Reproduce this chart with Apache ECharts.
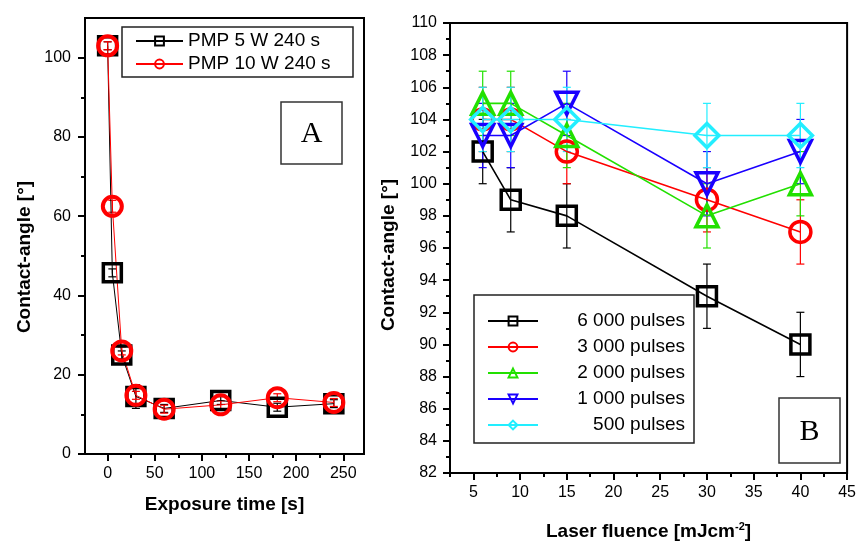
<!DOCTYPE html>
<html><head><meta charset="utf-8">
<script src="https://cdn.jsdelivr.net/npm/echarts@6/dist/echarts.min.js"></script>
<style>html,body{margin:0;padding:0;background:#fff}#c{width:859px;height:546px}</style>
</head><body><div id="c"></div>
<script>
// ---- Panel A data ----
const timeS = [0, 5, 15, 30, 60, 120, 180, 240];
const pmp5W = [103, 45.7, 25, 14.5, 11.5, 13.5, 11.8, 12.7];
const pmp5WErr = [1, 1, 1, 3, 1, 1, 1, 1];
const pmp10W = [103, 62.5, 26, 14.8, 11.3, 12.4, 14.2, 13];
const pmp10WErr = [1, 1.5, 1, 1, 1, 1, 1, 1];
const namesA = ['PMP 5 W 240 s', 'PMP 10 W 240 s'];

// ---- Panel B data ----
const fluence = [6, 9, 15, 30, 40];
const pulses6000 = [102, 99, 98, 93, 90];
const pulses3000 = [104, 104, 102, 99, 97];
const pulses2000 = [105, 105, 103, 98, 100];
const pulses1000 = [103, 103, 105, 100, 102];
const pulses500 = [104, 104, 104, 103, 103];
const err6000 = [2, 2, 2, 2, 2];
const err3000 = [2, 2, 2, 2, 2];
const err2000 = [2, 2, 2, 2, 2];
const err1000 = [2, 2, 2, 2, 2];
const err500 = [2, 2, 2, 2, 2];
const namesB = ['6 000 pulses', '3 000 pulses', '2 000 pulses', '1 000 pulses', '500 pulses'];

// ---- tick labels ----
const aXTicks = [0, 50, 100, 150, 200, 250];
const aXMinor = [25, 75, 125, 175, 225];
const aYTicks = [0, 20, 40, 60, 80, 100];
const aYMinor = [10, 30, 50, 70, 90];
const bXTicks = [5, 10, 15, 20, 25, 30, 35, 40, 45];
const bXMinor = [2.5, 7.5, 12.5, 17.5, 22.5, 27.5, 32.5, 37.5, 42.5];

const FONT = "'Liberation Sans', Arial, sans-serif";
const AX = '#000';

function zip(xs, ys) { return xs.map((x, i) => [x, ys[i]]); }

function errSeries(xs, ys, errs, color, xi, yi, lw) {
  return {
    type: 'custom', xAxisIndex: xi, yAxisIndex: yi, silent: true, z: 4,
    data: xs.map((x, i) => [x, ys[i] - errs[i], ys[i] + errs[i]]),
    encode: { x: 0, y: [1, 2] },
    renderItem: (params, api) => {
      const lo = api.coord([api.value(0), api.value(1)]);
      const hi = api.coord([api.value(0), api.value(2)]);
      const w = 4;
      const st = { stroke: color, lineWidth: lw };
      return { type: 'group', children: [
        { type: 'line', shape: { x1: lo[0], y1: lo[1], x2: hi[0], y2: hi[1] }, style: st },
        { type: 'line', shape: { x1: lo[0] - w, y1: lo[1], x2: lo[0] + w, y2: lo[1] }, style: st },
        { type: 'line', shape: { x1: hi[0] - w, y1: hi[1], x2: hi[0] + w, y2: hi[1] }, style: st }
      ]};
    }
  };
}

function lineSeries(name, xs, ys, color, symbol, size, xi, yi, lw, bw, rot) {
  return {
    type: 'line', name: name, xAxisIndex: xi, yAxisIndex: yi, z: 5,
    data: zip(xs, ys), symbol: symbol, symbolSize: size, symbolRotate: rot || 0,
    lineStyle: { color: color, width: lw },
    itemStyle: { color: 'transparent', borderColor: color, borderWidth: bw },
    emphasis: { disabled: true }
  };
}

const axisText = { color: '#000', fontFamily: FONT, fontSize: 16 };
const nameText = { color: '#000', fontFamily: FONT, fontSize: 19, fontWeight: 'bold' };
const noZero = { onZero: false };

const option = {
  backgroundColor: '#fff',
  animation: false,
  grid: [
    { left: 85, top: 18, width: 279, height: 436, show: true, borderColor: AX, borderWidth: 2, backgroundColor: 'transparent' },
    { left: 450, top: 23, width: 401, height: 454, show: true, borderColor: AX, borderWidth: 2, backgroundColor: 'transparent' }
  ],
  xAxis: [
    { type: 'value', gridIndex: 0, min: -24, max: 272, position: 'bottom',
      name: 'Exposure time [s]', nameLocation: 'middle', nameGap: 41, nameTextStyle: nameText,
      axisLine: { show: true, onZero: false, lineStyle: { color: AX, width: 2 } },
      axisTick: { show: true, customValues: aXTicks, length: 7, lineStyle: { color: AX, width: 2 } },
      axisLabel: { customValues: aXTicks, margin: 12, ...axisText },
      splitLine: { show: false } },
    { type: 'value', gridIndex: 0, min: -24, max: 272, position: 'bottom',
      axisLine: { show: false, onZero: false }, axisLabel: { show: false }, splitLine: { show: false },
      axisTick: { show: true, customValues: aXMinor, length: 4, lineStyle: { color: AX, width: 2 } } },
    { type: 'value', gridIndex: 1, min: 2.5, max: 45, position: 'bottom',
      name: 'Laser fluence [mJcm{s|-2}]', nameLocation: 'middle', nameGap: 48,
      nameTextStyle: { ...nameText, rich: { s: { fontSize: 11, fontWeight: 'bold', fontFamily: FONT, verticalAlign: 'top', padding: [0, 0, 10, 0] } } },
      axisLine: { show: true, onZero: false, lineStyle: { color: AX, width: 2 } },
      axisTick: { show: true, customValues: bXTicks, length: 7, lineStyle: { color: AX, width: 2 } },
      axisLabel: { customValues: bXTicks, margin: 12, ...axisText },
      splitLine: { show: false } },
    { type: 'value', gridIndex: 1, min: 2.5, max: 45, position: 'bottom',
      axisLine: { show: false, onZero: false }, axisLabel: { show: false }, splitLine: { show: false },
      axisTick: { show: true, customValues: bXMinor, length: 4, lineStyle: { color: AX, width: 2 } } }
  ],
  yAxis: [
    { type: 'value', gridIndex: 0, min: 0, max: 110, position: 'left',
      name: 'Contact-angle [°]', nameLocation: 'middle', nameGap: 51,
      nameTextStyle: { ...nameText, padding: [0, 42, 0, 0] },
      axisLine: { show: true, onZero: false, lineStyle: { color: AX, width: 2 } },
      axisTick: { show: true, customValues: aYTicks, length: 7, lineStyle: { color: AX, width: 2 } },
      axisLabel: { customValues: aYTicks, margin: 14, ...axisText },
      splitLine: { show: false } },
    { type: 'value', gridIndex: 0, min: 0, max: 110, position: 'left',
      axisLine: { show: false, onZero: false }, axisLabel: { show: false }, splitLine: { show: false },
      axisTick: { show: true, customValues: aYMinor, length: 4, lineStyle: { color: AX, width: 2 } } },
    { type: 'value', gridIndex: 1, min: 82, max: 110, interval: 2, position: 'left',
      name: 'Contact-angle [°]', nameLocation: 'middle', nameGap: 52,
      nameTextStyle: { ...nameText, padding: [0, 14, 0, 0] },
      axisLine: { show: true, onZero: false, lineStyle: { color: AX, width: 2 } },
      axisTick: { show: true, length: 7, lineStyle: { color: AX, width: 2 } },
      minorTick: { show: true, splitNumber: 2, length: 4, lineStyle: { color: AX, width: 2 } },
      axisLabel: { margin: 13, ...axisText },
      splitLine: { show: false } }
  ],
  legend: [
    { data: namesA, orient: 'vertical', left: 122, top: 27,
      borderColor: '#222', borderWidth: 1.5, padding: [4, 10, 3, 13], backgroundColor: '#fff',
      itemWidth: 47, itemHeight: 11, itemGap: 3,
      itemStyle: { borderWidth: 2 },
      formatter: n => '{t|' + n + '}',
      textStyle: { color: '#000', fontFamily: FONT, fontSize: 19, lineHeight: 20,
        rich: { t: { width: 155, align: 'left', fontSize: 19, fontFamily: FONT, color: '#000' } } } },
    { data: namesB, orient: 'vertical', left: 474, top: 295,
      borderColor: '#222', borderWidth: 1.5, padding: [16, 9, 8, 13], backgroundColor: '#fff',
      itemWidth: 50, itemHeight: 11, itemGap: 6,
      itemStyle: { borderWidth: 2 },
      formatter: n => '{t|' + n + '}',
      textStyle: { color: '#000', fontFamily: FONT, fontSize: 19, lineHeight: 20,
        rich: { t: { width: 142, align: 'right', fontSize: 19, fontFamily: FONT, color: '#000' } } } }
  ],
  graphic: [
    { type: 'rect', shape: { x: 281, y: 102, width: 61, height: 62 }, style: { fill: '#fff', stroke: '#333', lineWidth: 1.5 }, z: 10 },
    { type: 'text', x: 311.5, y: 134, style: { text: 'A', font: "30px 'Liberation Serif', 'Times New Roman', serif", fill: '#000', align: 'center', verticalAlign: 'middle' }, z: 11 },
    { type: 'rect', shape: { x: 779, y: 398, width: 61, height: 65 }, style: { fill: '#fff', stroke: '#333', lineWidth: 1.5 }, z: 10 },
    { type: 'text', x: 809.5, y: 432, style: { text: 'B', font: "30px 'Liberation Serif', 'Times New Roman', serif", fill: '#000', align: 'center', verticalAlign: 'middle' }, z: 11 }
  ],
  series: [
    lineSeries(namesA[0], timeS, pmp5W, '#000', 'rect', 18, 0, 0, 1, 3.5),
    errSeries(timeS, pmp5W, pmp5WErr, '#000', 0, 0, 1.2),
    lineSeries(namesA[1], timeS, pmp10W, '#ff0000', 'circle', 19, 0, 0, 1, 4),
    errSeries(timeS, pmp10W, pmp10WErr, '#ff0000', 0, 0, 1.2),

    lineSeries(namesB[0], fluence, pulses6000, '#000', 'rect', 19, 2, 2, 1.6, 3.5),
    errSeries(fluence, pulses6000, err6000, '#000', 2, 2, 1.2),
    lineSeries(namesB[1], fluence, pulses3000, '#ff0000', 'circle', 21, 2, 2, 1.6, 3.5),
    errSeries(fluence, pulses3000, err3000, '#ff0000', 2, 2, 1.2),
    lineSeries(namesB[2], fluence, pulses2000, '#22e000', 'triangle', 22, 2, 2, 1.6, 3.5),
    errSeries(fluence, pulses2000, err2000, '#22e000', 2, 2, 1.2),
    lineSeries(namesB[3], fluence, pulses1000, '#1a00ff', 'triangle', 22, 2, 2, 1.6, 3.5, 180),
    errSeries(fluence, pulses1000, err1000, '#1a00ff', 2, 2, 1.2),
    lineSeries(namesB[4], fluence, pulses500, '#22eeff', 'diamond', 24, 2, 2, 1.6, 3.5),
    errSeries(fluence, pulses500, err500, '#22eeff', 2, 2, 1.2)
  ]
};

const chart = echarts.init(document.getElementById('c'), null, { renderer: 'canvas' });
chart.setOption(option);
</script>
</body></html>
